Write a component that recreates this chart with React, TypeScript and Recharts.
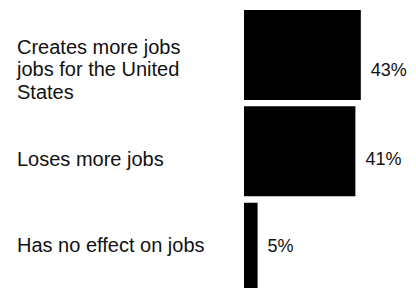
import { BarChart, Bar, XAxis, YAxis, LabelList } from "recharts";

const categories = [
  "Creates more jobs\njobs for the United\nStates",
  "Loses more jobs",
  "Has no effect on jobs",
];
const shares = [43, 41, 5];
const valueLabels = ["43%", "41%", "5%"];

const data = categories.map((name, i) => ({
  name,
  share: shares[i],
  label: valueLabels[i],
}));

// small vertical nudges per row, the printed labels sit a bit off centre
const rowNudge = [14, 7, -3];
const FONT = "'Liberation Sans', Arial, Helvetica, sans-serif";

function CategoryTick(props: any) {
  const { y, payload, index } = props;
  const lines = String(payload.value).split("\n");
  const i = index ?? payload.index ?? 0;
  const base = y + (rowNudge[i] ?? 0) + 7;
  return (
    <text x={17} fontFamily={FONT} fontSize={20} fill="#111" textAnchor="start">
      {lines.map((line, k) => (
        <tspan key={k} x={17} y={base + (k - (lines.length - 1) / 2) * 22.5}>
          {line}
        </tspan>
      ))}
    </text>
  );
}

function ValueLabel(props: any) {
  const { x, y, width, height, value, index } = props;
  const i = index ?? 0;
  return (
    <text
      x={x + width + 10}
      y={y + height / 2 + (rowNudge[i] ?? 0) + 7}
      fontFamily={FONT}
      fontSize={18}
      fill="#111"
      textAnchor="start"
    >
      {value}
    </text>
  );
}

export default function App() {
  return (
    <div
      style={{
        position: "fixed",
        top: 0,
        left: 0,
        width: 416,
        height: 288,
        overflow: "hidden",
        background: "#fff",
      }}
    >
      <BarChart
        width={416}
        height={296}
        data={data}
        layout="vertical"
        margin={{ top: 7, right: 9, bottom: 0, left: 0 }}
        barCategoryGap={3}
      >
        <XAxis type="number" domain={[0, 60]} hide />
        <YAxis
          type="category"
          dataKey="name"
          width={244}
          axisLine={false}
          tickLine={false}
          tick={<CategoryTick />}
          interval={0}
        />
        <Bar dataKey="share" fill="#000" isAnimationActive={false}>
          <LabelList dataKey="label" content={<ValueLabel />} />
        </Bar>
      </BarChart>
    </div>
  );
}
